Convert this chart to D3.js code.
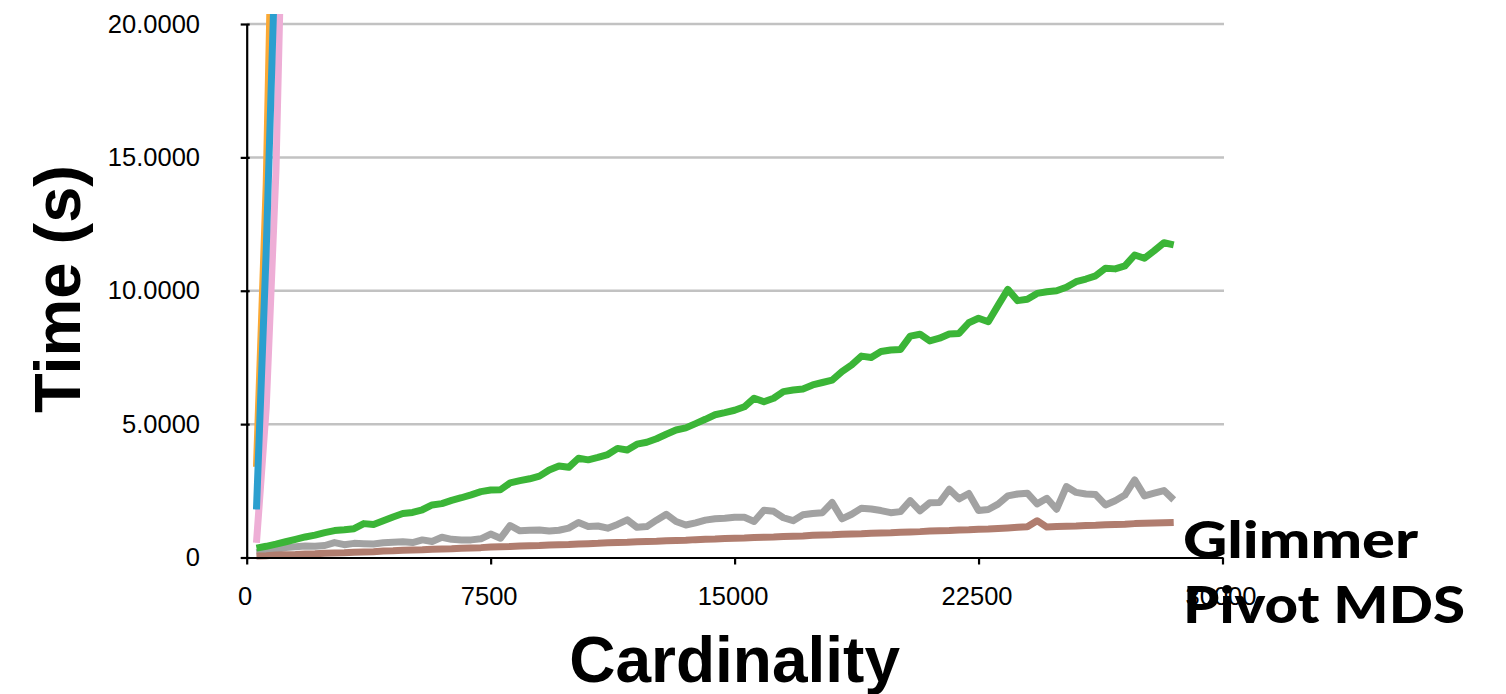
<!DOCTYPE html>
<html>
<head>
<meta charset="utf-8">
<script src="https://cdn.jsdelivr.net/npm/d3@7"></script>
<style>
  html, body { margin: 0; padding: 0; background: #fff; overflow: hidden; }
  svg { display: block; }
</style>
</head>
<body>
<svg id="chart" width="1506" height="694"></svg>
<script>
// ---- data -------------------------------------------------------------
const cardinality = [
  300, 600, 900, 1200, 1500, 1800, 2100, 2400, 2700, 3000,
  3300, 3600, 3900, 4200, 4500, 4800, 5100, 5400, 5700, 6000,
  6300, 6600, 6900, 7200, 7500, 7800, 8100, 8400, 8700, 9000,
  9300, 9600, 9900, 10200, 10500, 10800, 11100, 11400, 11700, 12000,
  12300, 12600, 12900, 13200, 13500, 13800, 14100, 14400, 14700, 15000,
  15300, 15600, 15900, 16200, 16500, 16800, 17100, 17400, 17700, 18000,
  18300, 18600, 18900, 19200, 19500, 19800, 20100, 20400, 20700, 21000,
  21300, 21600, 21900, 22200, 22500, 22800, 23100, 23400, 23700, 24000,
  24300, 24600, 24900, 25200, 25500, 25800, 26100, 26400, 26700, 27000,
  27300, 27600, 27900, 28200, 28500
];

const greenTimes = [
  0.35, 0.42, 0.50, 0.59, 0.68, 0.77, 0.84, 0.93, 1.01, 1.04,
  1.08, 1.27, 1.24, 1.38, 1.52, 1.65, 1.69, 1.79, 1.97, 2.02,
  2.14, 2.24, 2.35, 2.47, 2.53, 2.54, 2.80, 2.88, 2.95, 3.05,
  3.28, 3.43, 3.38, 3.72, 3.66, 3.75, 3.86, 4.09, 4.03, 4.25,
  4.32, 4.45, 4.62, 4.78, 4.86, 5.02, 5.18, 5.35, 5.43, 5.52,
  5.65, 5.97, 5.84, 5.97, 6.22, 6.28, 6.32, 6.47, 6.56, 6.65,
  6.97, 7.22, 7.55, 7.50, 7.72, 7.78, 7.80, 8.30, 8.37, 8.12,
  8.22, 8.38, 8.40, 8.80, 8.97, 8.84, 9.45, 10.05, 9.63, 9.68,
  9.90, 9.96, 10.00, 10.13, 10.34, 10.44, 10.56, 10.84, 10.82, 10.93,
  11.34, 11.22, 11.50, 11.80, 11.72
];

const grayTimes = [
  0.18, 0.25, 0.30, 0.37, 0.40, 0.43, 0.42, 0.45, 0.56, 0.48,
  0.53, 0.52, 0.51, 0.55, 0.57, 0.59, 0.56, 0.66, 0.60, 0.76,
  0.68, 0.66, 0.66, 0.70, 0.88, 0.72, 1.20, 1.00, 1.02, 1.03,
  0.99, 1.02, 1.10, 1.31, 1.16, 1.18, 1.10, 1.24, 1.41, 1.13,
  1.16, 1.40, 1.62, 1.35, 1.22, 1.30, 1.40, 1.45, 1.47, 1.51,
  1.51, 1.35, 1.77, 1.73, 1.49, 1.38, 1.60, 1.65, 1.68, 2.06,
  1.45, 1.62, 1.85, 1.82, 1.76, 1.68, 1.72, 2.13, 1.75, 2.05,
  2.06, 2.56, 2.20, 2.40, 1.76, 1.80, 2.00, 2.31, 2.38, 2.41,
  2.01, 2.22, 1.81, 2.66, 2.44, 2.38, 2.36, 1.97, 2.13, 2.34,
  2.91, 2.31, 2.41, 2.51, 2.16
];

const brownTimes = [
  0.06, 0.07, 0.09, 0.10, 0.11, 0.13, 0.14, 0.16, 0.17, 0.18,
  0.20, 0.21, 0.22, 0.24, 0.25, 0.27, 0.28, 0.29, 0.31, 0.32,
  0.33, 0.35, 0.36, 0.37, 0.39, 0.40, 0.41, 0.43, 0.44, 0.45,
  0.47, 0.48, 0.49, 0.51, 0.52, 0.53, 0.55, 0.56, 0.57, 0.59,
  0.60, 0.61, 0.63, 0.64, 0.65, 0.67, 0.68, 0.69, 0.71, 0.72,
  0.73, 0.75, 0.76, 0.77, 0.79, 0.80, 0.81, 0.83, 0.84, 0.85,
  0.87, 0.88, 0.89, 0.91, 0.92, 0.93, 0.95, 0.96, 0.97, 0.99,
  1.00, 1.01, 1.03, 1.04, 1.06, 1.07, 1.09, 1.11, 1.13, 1.15,
  1.38, 1.14, 1.16, 1.17, 1.18, 1.20, 1.21, 1.23, 1.24, 1.25,
  1.27, 1.28, 1.29, 1.30, 1.31
];

// the three fast-growing methods leave the plot after a few sizes
const steepCardinality = [300, 600, 900, 1200];
const pinkTimes   = [0.55, 5.6, 14.5, 30.0];
const orangeTimes = [3.4, 14.0, 31.5, 56.0];
const blueTimes   = [1.8, 11.5, 23.5, 44.0];

const xTicks = [0, 7500, 15000, 22500, 30000];
const yTicks = [0, 5, 10, 15, 20];
const legendNames = ["Glimmer", "Pivot MDS"];

// ---- layout -----------------------------------------------------------
const svg = d3.select("#chart");
const x = d3.scaleLinear().domain([0, 30000]).range([246.7, 1222.5]);
const y = d3.scaleLinear().domain([0, 20]).range([557.5, 24]);

const tickFont = "'Liberation Sans', Arial, Helvetica, sans-serif";

// horizontal gridlines
svg.append("g")
  .selectAll("line")
  .data(yTicks.filter(d => d > 0))
  .join("line")
  .attr("x1", x(0)).attr("x2", x(30000) + 1.5)
  .attr("y1", d => y(d)).attr("y2", d => y(d))
  .attr("stroke", "#c2c2c2")
  .attr("stroke-width", 2.5);

// clip so the steep curves stop just above the top gridline
svg.append("defs").append("clipPath").attr("id", "plot-clip")
  .append("rect")
  .attr("x", x(0)).attr("y", 14)
  .attr("width", 1000).attr("height", 570);

const line = d3.line()
  .x(d => x(d[0]))
  .y(d => y(d[1]));

const pair = (xs, ys) => xs.map((v, i) => [v, ys[i]]);

const series = [
  { values: pair(steepCardinality, pinkTimes),   color: "#eeaed6" },
  { values: pair(steepCardinality, orangeTimes), color: "#fba935" },
  { values: pair(steepCardinality, blueTimes),   color: "#2b9fcf" },
  { values: pair(cardinality, grayTimes),        color: "#a2a2a2" },
  { values: pair(cardinality, brownTimes),       color: "#b07d6f" },
  { values: pair(cardinality, greenTimes),       color: "#3bb537" }
];

svg.append("g")
  .attr("clip-path", "url(#plot-clip)")
  .selectAll("path")
  .data(series)
  .join("path")
  .attr("d", d => line(d.values))
  .attr("fill", "none")
  .attr("stroke", d => d.color)
  .attr("stroke-width", 7)
  .attr("stroke-linejoin", "round");

// ---- axes -------------------------------------------------------------
const yAxis = svg.append("g")
  .attr("transform", `translate(${x(0)},0)`)
  .call(d3.axisLeft(y)
    .tickValues(yTicks)
    .tickSize(6)
    .tickSizeOuter(0)
    .tickPadding(40.7)
    .tickFormat(d => d === 0 ? "0" : d3.format(".4f")(d)));

yAxis.attr("font-family", tickFont).attr("font-size", 25.5);
yAxis.select(".domain").attr("stroke", "#000").attr("stroke-width", 2.2);
yAxis.selectAll(".tick line").attr("x1", 3).attr("stroke", "#000").attr("stroke-width", 2.2);
yAxis.selectAll(".tick text").attr("fill", "#000");

const xAxis = svg.append("g")
  .attr("transform", `translate(0,${y(0)})`)
  .call(d3.axisBottom(x)
    .tickValues(xTicks)
    .tickSize(7)
    .tickSizeOuter(0)
    .tickPadding(22.5)
    .tickFormat(d3.format("d")));

xAxis.attr("font-family", tickFont).attr("font-size", 25.5);
xAxis.select(".domain").attr("stroke", "#000").attr("stroke-width", 2.2);
xAxis.selectAll(".tick line").attr("stroke", "#000").attr("stroke-width", 2.2);
xAxis.selectAll(".tick text").attr("fill", "#000").attr("dx", -2);

// ---- titles -----------------------------------------------------------
svg.append("text")
  .attr("transform", "translate(80,289) rotate(-90)")
  .attr("text-anchor", "middle")
  .attr("font-family", tickFont)
  .attr("font-weight", "bold")
  .attr("font-size", 65)
  .attr("fill", "#000")
  .text("Time (s)");

svg.append("text")
  .attr("x", x(15000))
  .attr("y", 682)
  .attr("text-anchor", "middle")
  .attr("font-family", tickFont)
  .attr("font-weight", "bold")
  .attr("font-size", 64)
  .attr("fill", "#000")
  .text("Cardinality");

// ---- legend labels ----------------------------------------------------
const legendWidths = [235, 282];
const legendBaselines = [558, 623];
svg.append("g")
  .selectAll("text")
  .data(legendNames)
  .join("text")
  .attr("x", 1183)
  .attr("y", (d, i) => legendBaselines[i])
  .attr("font-family", "Lato, 'Open Sans', sans-serif")
  .attr("font-weight", 900)
  .attr("font-size", 52)
  .attr("fill", "#000")
  .attr("textLength", (d, i) => legendWidths[i])
  .attr("lengthAdjust", "spacingAndGlyphs")
  .text(d => d);
</script>
</body>
</html>
